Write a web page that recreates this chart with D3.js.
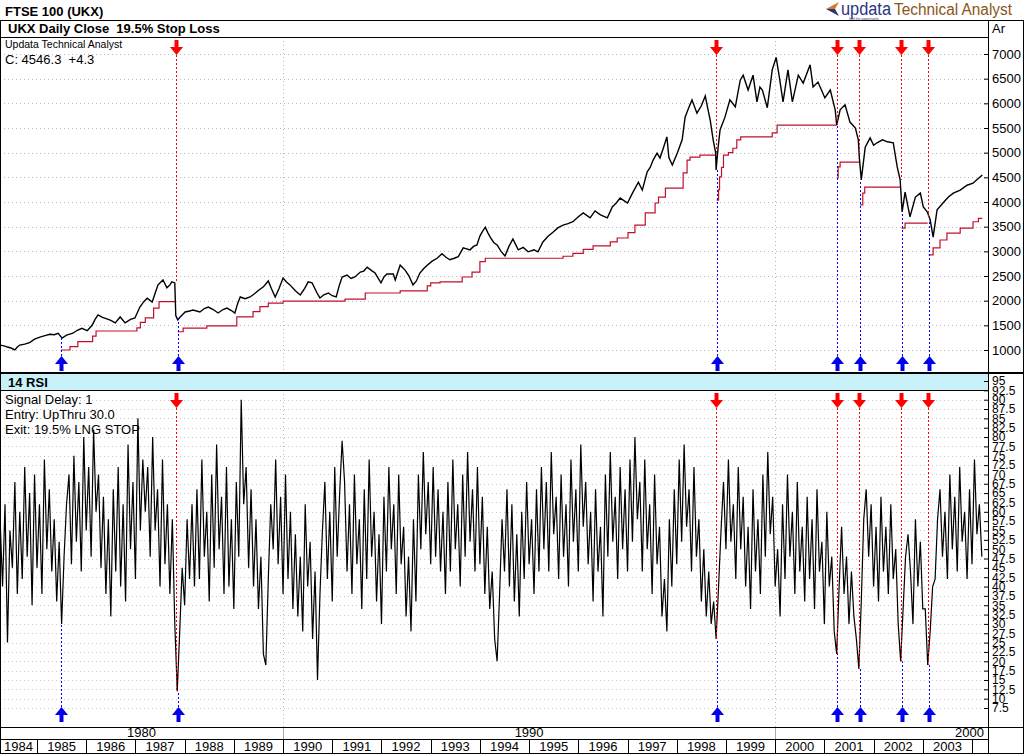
<!DOCTYPE html>
<html><head><meta charset="utf-8">
<script src="https://cdn.jsdelivr.net/npm/d3@7"></script>
<style>body{margin:0;background:#fff}svg{display:block;font-family:"Liberation Sans",Arial,sans-serif}text{white-space:pre}</style>
</head><body><svg id="c" width="1024" height="754"></svg>
<script>
// ---------------- DATA ----------------
const chartTitle = "FTSE 100 (UKX)";
const pricePanelTitle = "UKX Daily Close  19.5% Stop Loss";
const rsiPanelTitle = "14 RSI";
const priceNotes = ["Updata Technical Analyst", "C: 4546.3  +4.3"];
const rsiNotes = ["Signal Delay: 1", "Entry: UpThru 30.0", "Exit: 19.5% LNG STOP"];
const priceTicks = [1000,1500,2000,2500,3000,3500,4000,4500,5000,5500,6000,6500,7000];
const rsiTicks = [7.5,10,12.5,15,17.5,20,22.5,25,27.5,30,32.5,35,37.5,40,42.5,45,47.5,50,52.5,55,57.5,60,62.5,65,67.5,70,72.5,75,77.5,80,82.5,85,87.5,90,92.5,95];
const years = [1984,1985,1986,1987,1988,1989,1990,1991,1992,1993,1994,1995,1996,1997,1998,1999,2000,2001,2002,2003,2004];
const decades = [1980,1990,2000];

// daily close (decimal year, value)
const closeSeries = [[1984.25,1100],[1984.33,1085],[1984.40,1060],[1984.47,1040],[1984.55,1000],[1984.60,1060],[1984.65,1100],[1984.75,1120],[1984.85,1150],[1984.95,1220],[1985.06,1260],[1985.16,1290],[1985.26,1320],[1985.35,1310],[1985.43,1340],[1985.51,1240],[1985.60,1300],[1985.73,1340],[1985.82,1400],[1985.91,1440],[1986.02,1390],[1986.12,1500],[1986.18,1620],[1986.24,1710],[1986.33,1660],[1986.42,1630],[1986.50,1600],[1986.59,1550],[1986.69,1670],[1986.79,1550],[1986.90,1620],[1986.99,1650],[1987.09,1870],[1987.17,1980],[1987.24,2050],[1987.34,1970],[1987.40,2150],[1987.46,2320],[1987.56,2420],[1987.64,2260],[1987.70,2320],[1987.74,2380],[1987.80,2360],[1987.82,1700],[1987.86,1610],[1987.90,1660],[1987.95,1710],[1988.01,1770],[1988.10,1790],[1988.17,1810],[1988.31,1770],[1988.40,1840],[1988.48,1870],[1988.58,1820],[1988.68,1750],[1988.78,1820],[1988.86,1850],[1988.95,1800],[1989.02,1750],[1989.08,1950],[1989.13,2075],[1989.23,2040],[1989.33,2075],[1989.42,2140],[1989.49,2200],[1989.60,2280],[1989.70,2400],[1989.76,2250],[1989.84,2075],[1989.92,2250],[1990.00,2460],[1990.07,2380],[1990.14,2320],[1990.25,2200],[1990.35,2115],[1990.44,2250],[1990.51,2380],[1990.59,2360],[1990.69,2155],[1990.75,2055],[1990.83,2120],[1990.92,2155],[1991.00,2100],[1991.08,2075],[1991.14,2300],[1991.20,2480],[1991.30,2520],[1991.38,2450],[1991.46,2480],[1991.57,2580],[1991.64,2600],[1991.71,2680],[1991.80,2610],[1991.87,2560],[1991.99,2360],[1992.05,2480],[1992.11,2540],[1992.24,2540],[1992.28,2420],[1992.34,2600],[1992.38,2720],[1992.48,2620],[1992.56,2500],[1992.64,2320],[1992.71,2400],[1992.78,2560],[1992.86,2650],[1992.93,2720],[1993.03,2800],[1993.13,2860],[1993.23,2950],[1993.31,2880],[1993.39,2830],[1993.48,2860],[1993.56,2890],[1993.66,3070],[1993.80,3030],[1993.87,3100],[1993.94,3130],[1994.00,3310],[1994.05,3400],[1994.11,3490],[1994.16,3380],[1994.21,3290],[1994.28,3180],[1994.35,3130],[1994.43,3000],[1994.51,2905],[1994.59,3100],[1994.67,3250],[1994.72,3150],[1994.78,3030],[1994.88,3080],[1994.98,2990],[1995.10,3030],[1995.18,2990],[1995.28,3190],[1995.38,3300],[1995.49,3390],[1995.59,3480],[1995.69,3530],[1995.79,3560],[1995.89,3600],[1996.00,3700],[1996.10,3780],[1996.24,3680],[1996.34,3820],[1996.45,3740],[1996.59,3680],[1996.69,3900],[1996.77,3980],[1996.85,4080],[1997.00,3980],[1997.10,4180],[1997.22,4400],[1997.30,4240],[1997.40,4610],[1997.46,4700],[1997.52,4850],[1997.60,4990],[1997.66,4890],[1997.73,5100],[1997.80,5320],[1997.84,4900],[1997.91,4750],[1998.01,4990],[1998.11,5260],[1998.17,5720],[1998.24,5900],[1998.31,6070],[1998.41,5800],[1998.50,5950],[1998.58,6150],[1998.63,5900],[1998.68,5660],[1998.74,5260],[1998.79,5000],[1998.80,4650],[1998.84,5100],[1998.88,5460],[1998.98,5720],[1999.08,6070],[1999.19,5930],[1999.29,6470],[1999.35,6570],[1999.45,6270],[1999.55,6570],[1999.63,6030],[1999.69,6330],[1999.74,6270],[1999.84,5910],[1999.94,6680],[2000.02,6930],[2000.09,6500],[2000.16,6030],[2000.26,6680],[2000.35,6030],[2000.47,6570],[2000.57,6410],[2000.71,6780],[2000.77,6330],[2000.87,6430],[2000.95,6250],[2001.01,6110],[2001.12,6270],[2001.22,5870],[2001.25,5560],[2001.32,5870],[2001.42,5970],[2001.52,5620],[2001.63,5500],[2001.69,5260],[2001.71,4900],[2001.75,4450],[2001.83,5110],[2001.93,5300],[2002.00,5150],[2002.07,5200],[2002.18,5260],[2002.28,5220],[2002.40,5200],[2002.48,4710],[2002.54,4450],[2002.58,3800],[2002.64,4200],[2002.74,3700],[2002.85,4100],[2002.95,4180],[2003.01,3900],[2003.09,3800],[2003.15,3640],[2003.21,3290],[2003.29,3840],[2003.41,3980],[2003.52,4100],[2003.62,4180],[2003.76,4240],[2003.90,4340],[2004.02,4380],[2004.12,4470],[2004.21,4546]];

// trailing stop segments (decimal year, stop level) - step after
const stopSegments = [
 [[1985.49,1000],[1985.67,1070],[1985.83,1170],[1986.13,1280],[1986.20,1385],[1987.03,1450],[1987.10,1560],[1987.20,1650],[1987.37,1850],[1987.48,1980],[1987.82,1980]],
 [[1987.86,1370],[1987.97,1445],[1988.45,1490],[1989.06,1670],[1989.39,1777],[1989.53,1878],[1989.70,1950],[1990.00,1990],[1991.26,2030],[1991.67,2155],[1992.38,2200],[1992.93,2300],[1993.00,2360],[1993.19,2380],[1993.64,2480],[1993.84,2580],[1994.00,2790],[1994.11,2860],[1995.69,2900],[1995.89,2960],[1996.10,3040],[1996.30,3110],[1996.65,3190],[1996.79,3270],[1997.01,3380],[1997.15,3530],[1997.36,3780],[1997.56,3980],[1997.63,4100],[1997.77,4280],[1998.13,4590],[1998.21,4850],[1998.27,4910],[1998.47,4950],[1998.79,4950]],
 [[1998.81,4040],[1998.85,4250],[1998.87,4510],[1998.91,4700],[1998.95,4950],[1999.05,5000],[1999.14,5090],[1999.22,5260],[1999.30,5320],[1999.94,5400],[2000.04,5560],[2001.25,5560]],
 [[2001.26,4490],[2001.28,4710],[2001.32,4810],[2001.71,4810]],
 [[2001.73,3940],[2001.78,4180],[2001.82,4300],[2002.55,4300]],
 [[2002.57,3470],[2002.64,3570],[2003.10,3570]],
 [[2003.12,2930],[2003.21,3070],[2003.35,3230],[2003.49,3370],[2003.76,3470],[2004.02,3600],[2004.13,3670],[2004.21,3670]]
];

// signals
const sellDates = [1987.82, 1998.79, 2001.25, 2001.71, 2002.55, 2003.10];
const sellPrices = [2360, 5000, 5560, 5000, 4450, 3700];
const sellRsi = [12, 26, 22, 18, 20, 19];
const buyDates = [1985.49, 1987.86, 1998.81, 2001.26, 2001.73, 2002.57, 2003.12];
const buyPrices = [1240, 1650, 4650, 5560, 4450, 3800, 3640];
const buyRsi = [30, 12, 26, 22, 18, 20, 19];

// 14-day RSI sampled every 0.05 year from 1984.25
const rsiStart = 1984.25, rsiStep = 0.05;
const rsiValues = [
 58,40,62,25,55,45,68,38,60,42,72,48,65,35,70,45,62,38,74,50,
 66,44,58,36,52,30,48,62,70,46,75,52,68,44,80,55,72,48,82,60,
 70,45,64,38,58,32,66,44,72,40,62,36,78,50,68,42,85,55,74,60,
 72,48,80,55,66,40,74,46,62,38,58,30,12,28,45,35,58,42,62,40,
 66,42,74,48,60,36,70,45,78,50,64,38,72,40,58,34,68,48,90,62,
 72,45,66,40,58,34,48,22,19,42,62,50,74,46,64,38,70,42,60,34,
 54,32,48,28,62,40,52,26,44,15,38,55,68,42,60,36,72,48,65,79,
 68,44,62,38,70,46,58,34,66,42,74,48,60,36,54,30,64,44,72,50,
 62,38,70,46,56,32,48,28,58,36,70,50,76,54,68,46,72,48,66,44,
 60,38,68,44,74,50,62,40,70,48,76,52,66,44,72,46,64,38,56,34,
 44,26,20,38,58,44,66,40,62,36,54,32,60,42,68,46,58,38,66,44,
 72,50,68,44,76,54,64,42,70,48,62,40,74,52,66,44,78,56,68,46,
 60,36,66,44,56,32,70,48,76,52,64,42,72,50,66,44,74,52,80,58,
 68,44,74,50,62,38,70,46,56,32,42,28,58,40,66,46,74,52,78,56,
 66,44,72,48,58,36,50,32,44,30,36,26,40,55,68,50,74,52,62,42,
 72,50,64,40,56,34,66,44,58,38,70,48,76,54,64,40,50,32,62,42,
 70,48,60,38,68,44,56,36,64,42,58,34,66,44,52,30,60,40,48,28,
 22,40,56,38,48,30,44,32,26,18,36,58,66,48,62,40,56,36,64,44,
 56,38,62,42,50,30,20,34,48,54,44,30,58,40,52,34,34,19,28,40,
 42,58,66,48,60,42,70,50,64,44,72,52,60,42,66,46,74,54,62,48];

// ---------------- DRAW ----------------
const svg = d3.select('#c');
const PL = 0, PR = 988;
const TOP0 = 20, TOPH = 37, TOP1 = 372;
const BOT0 = 374, BOTH = 390, BOT1 = 727;
const x = d3.scaleLinear().domain([1984.248, 2004.325]).range([PL, PR]);
const yP = d3.scaleLinear().domain([1000, 7000]).range([350, 54]);
const yR = d3.scaleLinear().domain([7.5, 95]).range([708, 381]);

svg.append('rect').attr('width',1024).attr('height',754).attr('fill','#fff');
const defs = svg.append('defs');
defs.append('clipPath').attr('id','clipT').append('rect').attr('x',PL).attr('y',TOPH).attr('width',PR-PL).attr('height',TOP1-TOPH);
defs.append('clipPath').attr('id','clipB').append('rect').attr('x',PL).attr('y',BOTH).attr('width',PR-PL).attr('height',BOT1-BOTH);

svg.append('text').attr('x',5).attr('y',16).attr('font-size',13).attr('font-weight','bold').text(chartTitle);

// logo
const logo = svg.append('g');
logo.append('path').attr('d','M826,9 L839,2 L835,9 Z').attr('fill','#d9772a');
logo.append('path').attr('d','M826,9 L835,9 L839,16 Z').attr('fill','#2b3480');
logo.append('text').attr('x',841).attr('y',15).attr('font-size',18).attr('fill','#2b3480').attr('textLength',50).attr('lengthAdjust','spacingAndGlyphs').text('updata');
logo.append('text').attr('x',849).attr('y',20).attr('font-size',3.5).attr('fill','#2b3480').text('feel the opportunity');
logo.append('text').attr('x',894).attr('y',15).attr('font-size',16).attr('fill','#8a5518').attr('textLength',118).attr('lengthAdjust','spacingAndGlyphs').text('Technical Analyst');

function frame(y0, yh, title, bg){
  svg.append('rect').attr('x',PL).attr('y',y0).attr('width',PR-PL).attr('height',yh-y0).attr('fill',bg);
  svg.append('text').attr('x',8).attr('y',y0+13).attr('font-size',13).attr('font-weight','bold').text(title);
}
frame(TOP0, TOPH, pricePanelTitle, '#ffffff');
frame(BOT0, BOTH, rsiPanelTitle, '#c9f1fa');

// gridlines
const gT = svg.append('g').attr('clip-path','url(#clipT)');
gT.selectAll('line.h').data(priceTicks).join('line').attr('x1',PL).attr('x2',PR)
  .attr('y1',d=>Math.round(yP(d))+0.5).attr('y2',d=>Math.round(yP(d))+0.5).attr('stroke','#b8b8b8').attr('stroke-dasharray','1,3');
const gB = svg.append('g').attr('clip-path','url(#clipB)');
gB.selectAll('line.h').data(rsiTicks).join('line').attr('x1',PL).attr('x2',PR)
  .attr('y1',d=>Math.round(yR(d))+0.5).attr('y2',d=>Math.round(yR(d))+0.5).attr('stroke','#c8c8c8').attr('stroke-dasharray','1,3');
[gT,gB].forEach((g,i)=>{
  g.selectAll('line.v').data(decades.slice(1)).join('line')
   .attr('x1',d=>Math.round(x(d))+0.5).attr('x2',d=>Math.round(x(d))+0.5)
   .attr('y1',i?BOTH:TOPH).attr('y2',i?BOT1:TOP1).attr('stroke','#b8b8b8').attr('stroke-dasharray','1,3');
});

priceNotes.forEach((t,i)=>svg.append('text').attr('x',5).attr('y',i?64:48).attr('font-size',i?13:10.5).text(t));

const stepLine = d3.line().x(d=>x(d[0])).y(d=>yP(d[1])).curve(d3.curveStepAfter);
gT.selectAll('path.stop').data(stopSegments).join('path').attr('d',stepLine)
  .attr('fill','none').attr('stroke','#c0102a').attr('stroke-width',1.2);

const line = d3.line().x(d=>x(d[0])).y(d=>yP(d[1]));
gT.append('path').datum(closeSeries).attr('d',line).attr('fill','none').attr('stroke','#000').attr('stroke-width',1.4);

const rsiLine = d3.line().x((d,i)=>x(rsiStart+i*rsiStep)).y(d=>yR(d));
gB.append('path').datum(rsiValues).attr('d',rsiLine).attr('fill','none').attr('stroke','#000').attr('stroke-width',1.2);

rsiNotes.forEach((t,i)=>svg.append('text').attr('x',5).attr('y',404+i*15).attr('font-size',13).text(t));

function downArrow(g, cx, tip, color){
  g.append('path').attr('d',`M${cx-2},${tip-15}h4v7h4.5l-6.5,8l-6.5,-8h4.5z`).attr('fill',color);
}
function upArrow(g, cx, tip, color){
  g.append('path').attr('d',`M${cx-2},${tip+15}h4v-7h4.5l-6.5,-8l-6.5,8h4.5z`).attr('fill',color);
}
const sig = svg.append('g');
sellDates.forEach((d,i)=>{
  const cx = Math.round(x(d))+0.5;
  sig.append('line').attr('x1',cx).attr('x2',cx).attr('y1',55).attr('y2',yP(sellPrices[i])).attr('stroke','#ff0000').attr('stroke-dasharray','2,2');
  sig.append('line').attr('x1',cx).attr('x2',cx).attr('y1',408).attr('y2',yR(sellRsi[i])).attr('stroke','#ff0000').attr('stroke-dasharray','2,2');
  downArrow(sig, cx, 55, '#ff0000');
  downArrow(sig, cx, 408, '#ff0000');
});
buyDates.forEach((d,i)=>{
  const cx = Math.round(x(d))+0.5;
  sig.append('line').attr('x1',cx).attr('x2',cx).attr('y1',356).attr('y2',yP(buyPrices[i])).attr('stroke','#0000ee').attr('stroke-dasharray','2,2');
  sig.append('line').attr('x1',cx).attr('x2',cx).attr('y1',707).attr('y2',yR(buyRsi[i])).attr('stroke','#0000ee').attr('stroke-dasharray','2,2');
  upArrow(sig, cx, 356, '#0000ee');
  upArrow(sig, cx, 707, '#0000ee');
});

const axT = svg.append('g').attr('transform',`translate(${PR},0)`)
  .call(d3.axisRight(yP).tickValues(priceTicks).tickSize(-4).tickSizeOuter(0).tickPadding(4).tickFormat(d3.format('d')));
const axB = svg.append('g').attr('transform',`translate(${PR},0)`)
  .call(d3.axisRight(yR).tickValues(rsiTicks).tickSize(-4).tickSizeOuter(0).tickPadding(4).tickFormat(d=>d));
[axT,axB].forEach((a,i)=>{a.select('.domain').remove(); a.selectAll('text').attr('font-size',i?12:13).attr('font-family','"Liberation Sans",Arial,sans-serif').attr('fill','#000'); a.selectAll('line').attr('stroke','#000');});
svg.append('text').attr('x',992).attr('y',33).attr('font-size',13).text('Ar');

const xa = svg.append('g');
xa.append('rect').attr('x',0).attr('y',BOT1).attr('width',PR).attr('height',754-BOT1).attr('fill','#fff');
decades.forEach(d=>{
  const a = Math.max(x(d),PL), b = Math.min(x(d+10),PR);
  const last = x(d+10) > PR;
  xa.append('text').attr('x', last ? b-4 : (a+b)/2).attr('y',737).attr('font-size',13)
    .attr('text-anchor', last?'end':'middle').text(d);
  if (x(d) > PL) xa.append('line').attr('x1',Math.round(x(d))+0.5).attr('x2',Math.round(x(d))+0.5).attr('y1',BOT1).attr('y2',739).attr('stroke','#aaa');
});
years.forEach(d=>{
  const a = Math.max(x(d),PL), b = Math.min(x(d+1),PR);
  if (b - a > 30) xa.append('text').attr('x',(a+b)/2).attr('y',751).attr('font-size',13).attr('text-anchor','middle').text(d);
  if (x(d) > PL) xa.append('line').attr('x1',Math.round(x(d))+0.5).attr('x2',Math.round(x(d))+0.5).attr('y1',739).attr('y2',754).attr('stroke','#000');
});
xa.append('line').attr('x1',0).attr('x2',PR).attr('y1',739.5).attr('y2',739.5).attr('stroke','#000');

const fl = [[0,TOP0,1024,TOP0],[0,TOPH,PR,TOPH],[0,TOP1,1024,TOP1],[0,TOP1+1,1024,TOP1+1],[0,BOTH,PR,BOTH],[0,BOT1,1024,BOT1],[0,753,1024,753]];
fl.forEach(l=>svg.append('line').attr('x1',l[0]).attr('y1',l[1]+0.5).attr('x2',l[2]).attr('y2',l[3]+0.5).attr('stroke','#000'));
svg.append('line').attr('x1',0.5).attr('x2',0.5).attr('y1',TOP0).attr('y2',754).attr('stroke','#000');
svg.append('line').attr('x1',PR+0.5).attr('x2',PR+0.5).attr('y1',TOP0).attr('y2',754).attr('stroke','#000');
svg.append('line').attr('x1',1023.5).attr('x2',1023.5).attr('y1',TOP0).attr('y2',754).attr('stroke','#000');
</script></body></html>
